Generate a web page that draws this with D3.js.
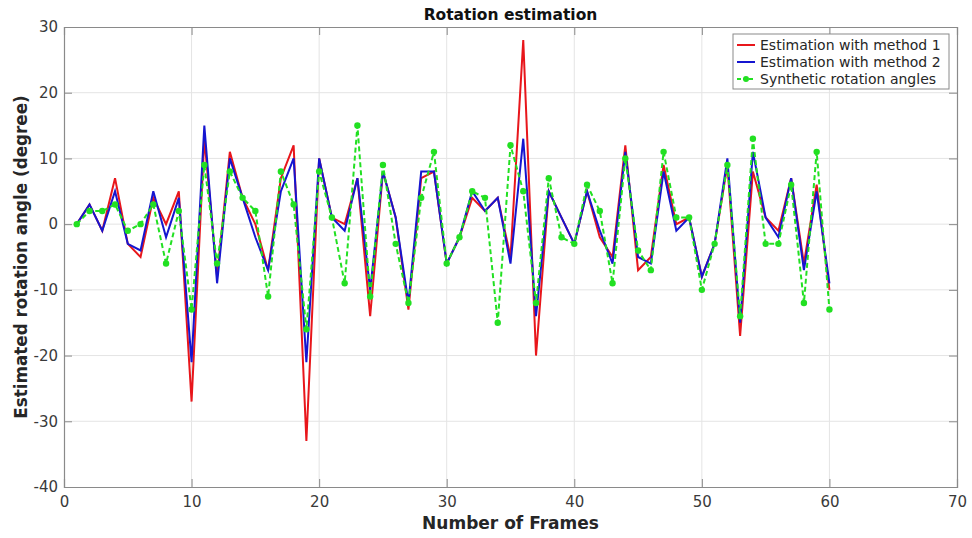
<!DOCTYPE html>
<html>
<head>
<meta charset="utf-8">
<script src="https://cdn.jsdelivr.net/npm/d3@7.9.0/dist/d3.min.js"></script>
<style>
  body { margin: 0; background: #fff; }
  svg { display: block; font-family: 'DejaVu Sans', sans-serif; }
</style>
</head>
<body>
<svg id="chart" width="972" height="538"></svg>
<script>
const frames = d3.range(1, 61);

const method1 = [0, 3, -1, 7, -3, -5, 4, 0, 5, -27, 13, -8, 11, 4, 0, -7, 7, 12, -33, 10,
  1, 0, 7, -14, 8, 1, -13, 7, 8, -6, -2, 4, 2, 4, -5, 28, -20, 5, 1, -3,
  5, -2, -5, 12, -7, -5, 9, 0, 1, -8, -3, 9, -17, 8, 1, -1, 7, -6, 6, -10];

const method2 = [0, 3, -1, 5, -3, -4, 5, -2, 4, -21, 15, -9, 10, 4, -2, -7, 5, 10, -21, 10,
  1, -1, 7, -10, 8, 1, -12, 8, 8, -6, -2, 5, 2, 4, -6, 13, -14, 5, 1, -3,
  5, -1, -6, 11, -5, -6, 8, -1, 1, -8, -3, 10, -15, 11, 1, -2, 7, -7, 5, -9];

const synthetic = [0, 2, 2, 3, -1, 0, 3, -6, 2, -13, 9, -6, 8, 4, 2, -11, 8, 3, -16, 8,
  1, -9, 15, -11, 9, -3, -12, 4, 11, -6, -2, 5, 4, -15, 12, 5, -12, 7, -2, -3,
  6, 2, -9, 10, -4, -7, 11, 1, 1, -10, -3, 9, -14, 13, -3, -3, 6, -12, 11, -13];

const xTicks = [0, 10, 20, 30, 40, 50, 60, 70];
const yTicks = [-40, -30, -20, -10, 0, 10, 20, 30];

const seriesNames = ['Estimation with method 1', 'Estimation with method 2', 'Synthetic rotation angles'];
const seriesColors = ['#e8161b', '#1515d0', '#22e022'];

const margin = { top: 27, right: 15, bottom: 51, left: 64 };
const width = 972 - margin.left - margin.right;
const height = 538 - margin.top - margin.bottom;

const svg = d3.select('#chart');
const g = svg.append('g').attr('transform', `translate(${margin.left},${margin.top})`);

const x = d3.scaleLinear().domain([0, 70]).range([0, width]);
const y = d3.scaleLinear().domain([-40, 30]).range([height, 0]);

// grid
g.append('g')
  .selectAll('line')
  .data(xTicks.slice(1, -1))
  .join('line')
  .attr('x1', (d) => x(d)).attr('x2', (d) => x(d))
  .attr('y1', 0).attr('y2', height)
  .attr('stroke', '#e4e4e4');

g.append('g')
  .selectAll('line')
  .data(yTicks.slice(1, -1))
  .join('line')
  .attr('y1', (d) => y(d)).attr('y2', (d) => y(d))
  .attr('x1', 0).attr('x2', width)
  .attr('stroke', '#e4e4e4');

// axes, matlab style: inward ticks, box all round
const tickLen = 8;
const axisColor = '#8a8a8a';
const fmt = (d) => String(d); // plain hyphen minus like the original

const xAxis = g.append('g')
  .attr('transform', `translate(0,${height})`)
  .call(d3.axisBottom(x).tickValues(xTicks).tickSize(-tickLen).tickPadding(9).tickFormat(fmt));
const yAxis = g.append('g')
  .call(d3.axisLeft(y).tickValues(yTicks).tickSize(-tickLen).tickPadding(6).tickFormat(fmt));
const xTop = g.append('g')
  .call(d3.axisTop(x).tickValues(xTicks).tickSize(-tickLen).tickFormat(''));
const yRight = g.append('g')
  .attr('transform', `translate(${width},0)`)
  .call(d3.axisRight(y).tickValues(yTicks).tickSize(-tickLen).tickFormat(''));

[xAxis, yAxis, xTop, yRight].forEach((a) => {
  a.select('.domain').attr('stroke', axisColor).attr('stroke-width', 1.2);
  a.selectAll('.tick line').attr('stroke', axisColor);
  a.selectAll('.tick text')
    .attr('fill', '#3a3a3a')
    .style('font-size', '15px')
    .style('font-family', "'DejaVu Sans', sans-serif");
});

// lines
const line = (vals) => d3.line()
  .x((d, i) => x(frames[i]))
  .y((d) => y(d))(vals);

g.append('path')
  .attr('d', line(method1))
  .attr('fill', 'none')
  .attr('stroke', seriesColors[0])
  .attr('stroke-width', 2);

g.append('path')
  .attr('d', line(method2))
  .attr('fill', 'none')
  .attr('stroke', seriesColors[1])
  .attr('stroke-width', 2);

g.append('path')
  .attr('d', line(synthetic))
  .attr('fill', 'none')
  .attr('stroke', seriesColors[2])
  .attr('stroke-width', 2)
  .attr('stroke-dasharray', '5,3');

g.append('g')
  .selectAll('circle')
  .data(synthetic)
  .join('circle')
  .attr('cx', (d, i) => x(frames[i]))
  .attr('cy', (d) => y(d))
  .attr('r', 3.2)
  .attr('fill', seriesColors[2]);

// title and labels
svg.append('text')
  .attr('x', margin.left + width / 2)
  .attr('y', 20)
  .attr('text-anchor', 'middle')
  .style('font-size', '15.5px')
  .style('font-weight', 'bold')
  .attr('fill', '#111')
  .text('Rotation estimation');

svg.append('text')
  .attr('x', margin.left + width / 2)
  .attr('y', 529)
  .attr('text-anchor', 'middle')
  .style('font-size', '17px')
  .style('font-weight', 'bold')
  .attr('fill', '#262626')
  .text('Number of Frames');

svg.append('text')
  .attr('transform', `translate(27,${margin.top + height / 2}) rotate(-90)`)
  .attr('text-anchor', 'middle')
  .style('font-size', '16.8px')
  .style('font-weight', 'bold')
  .attr('fill', '#262626')
  .text('Estimated rotation angle (degree)');

// legend
const legend = svg.append('g').attr('transform', 'translate(733,34)');
legend.append('rect')
  .attr('width', 216)
  .attr('height', 55)
  .attr('fill', '#fff')
  .attr('stroke', '#8a8a8a');

seriesNames.forEach((name, i) => {
  const row = legend.append('g').attr('transform', `translate(0,${11 + i * 17})`);
  row.append('line')
    .attr('x1', 4).attr('x2', 22)
    .attr('stroke', seriesColors[i])
    .attr('stroke-width', 2)
    .attr('stroke-dasharray', i === 2 ? '4,2' : null);
  if (i === 2) {
    row.append('circle').attr('cx', 13).attr('r', 3).attr('fill', seriesColors[i]);
  }
  row.append('text')
    .attr('x', 27)
    .attr('dy', '0.35em')
    .style('font-size', '14px')
    .attr('fill', '#262626')
    .text(name);
});
</script>
</body>
</html>
